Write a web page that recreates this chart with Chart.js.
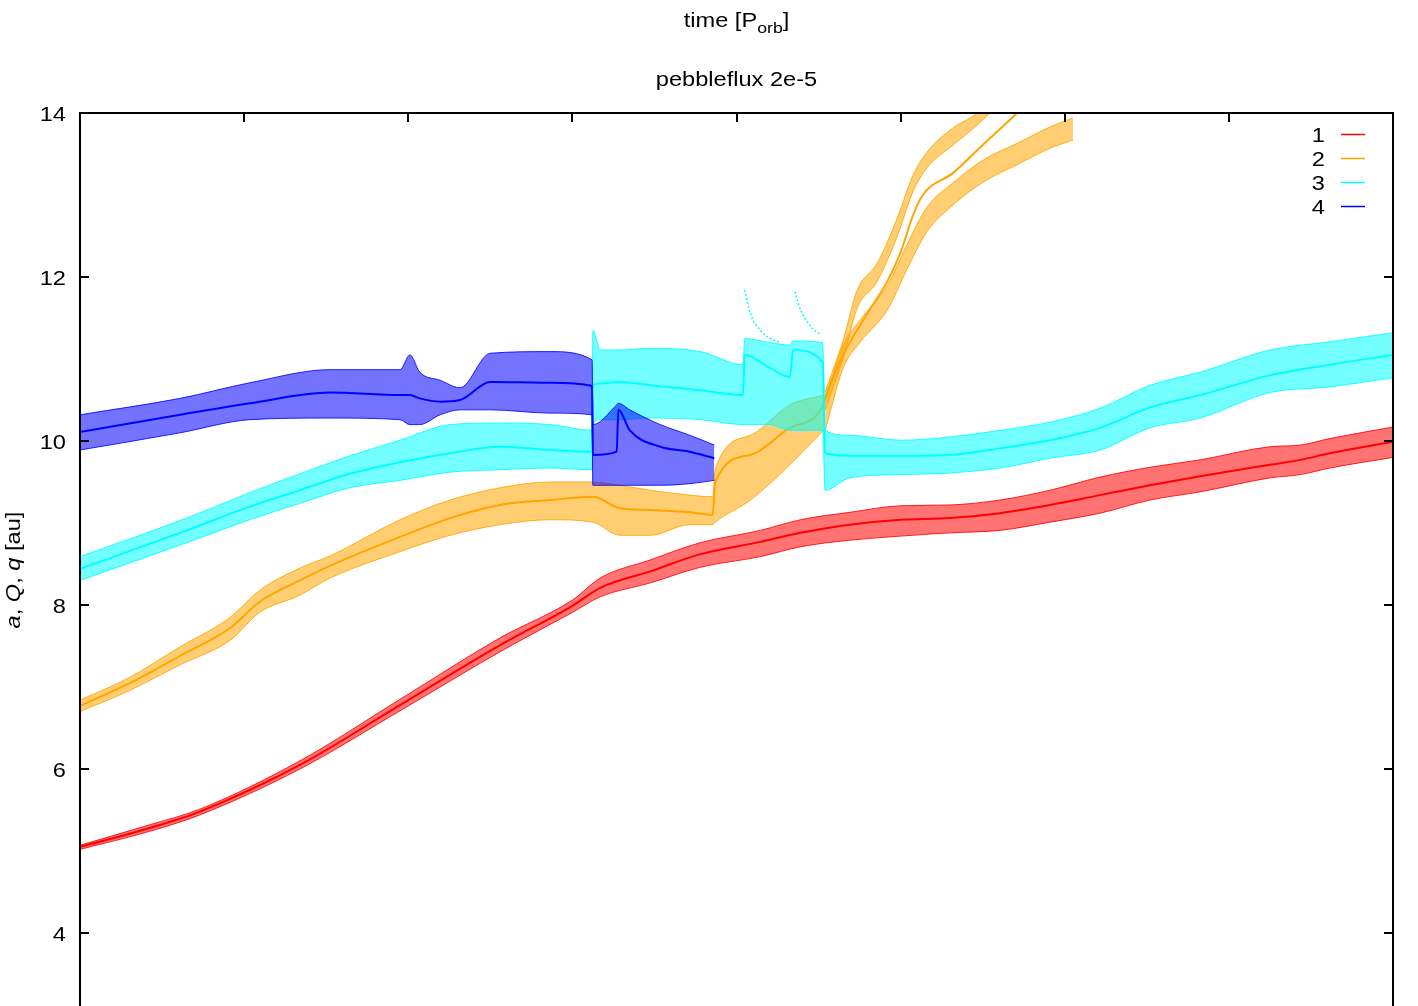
<!DOCTYPE html>
<html>
<head>
<meta charset="utf-8">
<script src="https://cdn.jsdelivr.net/npm/chart.js@4/dist/chart.umd.min.js"></script>
<style>
  html, body { margin: 0; padding: 0; background: #fff; overflow: hidden; }
  canvas { display: block; }
</style>
</head>
<body>
<canvas id="c" width="1418" height="1100" style="width:1418px;height:1100px"></canvas>
<script>
// ---- axes -------------------------------------------------------------
const yTicks = [4, 6, 8, 10, 12, 14];
const xTicks = [0, 1000, 2000, 3000, 4000, 5000, 6000, 7000, 8000];
const seriesNames = ['1', '2', '3', '4'];
const seriesColors = ['#ff0000', '#ffa500', '#00ffff', '#0000ff'];

// ---- planet 1 : time, semi-major axis, max apocentre, min pericentre ---
const t1 = [0, 425, 730, 1340, 1950, 2560, 3000, 3170, 3475, 3780, 4145, 4390, 4690, 5000, 5300, 5605, 5910, 6215, 6520, 6825, 7250, 7435, 7615, 8000];
const a1 = [5.05, 5.28, 5.48, 6.05, 6.78, 7.51, 7.99, 8.21, 8.41, 8.62, 8.77, 8.88, 8.98, 9.04, 9.06, 9.12, 9.22, 9.34, 9.46, 9.57, 9.71, 9.77, 9.85, 9.99];
const Q1 = [5.07, 5.32, 5.51, 6.10, 6.85, 7.60, 8.06, 8.33, 8.55, 8.76, 8.91, 9.04, 9.13, 9.21, 9.22, 9.28, 9.40, 9.56, 9.68, 9.77, 9.93, 9.95, 10.03, 10.17];
const q1 = [5.02, 5.24, 5.44, 6.00, 6.71, 7.43, 7.91, 8.10, 8.27, 8.46, 8.59, 8.71, 8.79, 8.84, 8.88, 8.91, 9.01, 9.12, 9.28, 9.38, 9.55, 9.59, 9.67, 9.80];

// ---- planet 2 : bound phase -------------------------------------------
const t2 = [0, 305, 610, 915, 1095, 1340, 1525, 1950, 2255, 2560, 2865, 3125, 3290, 3475, 3715, 3855, 3870, 4085, 4325, 4530];
const a2 = [6.77, 7.05, 7.38, 7.72, 8.04, 8.30, 8.48, 8.83, 9.06, 9.22, 9.28, 9.32, 9.18, 9.16, 9.13, 9.10, 9.50, 9.83, 10.16, 10.44];
const Q2 = [6.84, 7.12, 7.49, 7.85, 8.18, 8.45, 8.60, 9.04, 9.28, 9.43, 9.50, 9.50, 9.46, 9.40, 9.34, 9.32, 9.65, 10.07, 10.44, 10.56];
const q2 = [6.70, 6.96, 7.27, 7.57, 7.91, 8.12, 8.33, 8.65, 8.85, 8.98, 9.04, 9.01, 8.85, 8.85, 8.98, 8.98, 9.01, 9.28, 9.71, 10.13];
// planet 2 : after the scattering, a and the separate Q and q bands
const t2e = [4540, 4650, 4795, 4920, 5000, 5075, 5135, 5320, 5505, 5710, 5850];
const a2e = [10.52, 11.05, 11.55, 11.95, 12.30, 12.75, 13.00, 13.27, 13.62, 14.00, 14.28];
const tQ2 = [4540, 4650, 4735, 4855, 4980, 5075, 5160, 5320, 5465, 5545];
const Qhi2 = [10.60, 11.23, 11.84, 12.16, 12.72, 13.24, 13.52, 13.82, 14.00, 14.20];
const Qlo2 = [10.38, 11.01, 11.62, 11.94, 12.50, 13.04, 13.33, 13.61, 13.85, 14.00];
const tq2 = [4540, 4650, 4755, 4920, 5040, 5160, 5320, 5505, 5710, 5910, 6050];
const qhi2 = [10.50, 11.17, 11.48, 11.90, 12.40, 12.85, 13.15, 13.43, 13.63, 13.83, 13.94];
const qlo2 = [10.13, 10.89, 11.21, 11.60, 12.10, 12.55, 12.88, 13.16, 13.37, 13.57, 13.67];

// ---- planet 3 ---------------------------------------------------------
const t3 = [0, 650, 1035, 1340, 1645, 1950, 2255, 2560, 2865, 3120,
            3125, 3170, 3290, 3475, 3780, 4040,
            4050, 4205, 4325, 4345, 4525,
            4540, 4690, 5000, 5300, 5605, 5910, 6215, 6520, 6825, 7250, 7615, 8000];
const a3 = [8.44, 8.91, 9.20, 9.40, 9.60, 9.74, 9.85, 9.93, 9.89, 9.87,
            10.68, 10.70, 10.72, 10.68, 10.62, 10.56,
            11.05, 10.89, 10.78, 11.11, 10.96,
            9.85, 9.82, 9.82, 9.83, 9.91, 10.01, 10.16, 10.41, 10.56, 10.80, 10.93, 11.05];
const Q3 = [8.59, 9.06, 9.37, 9.60, 9.82, 10.01, 10.20, 10.22, 10.20, 10.13,
            11.35, 11.11, 11.11, 11.13, 11.09, 10.93,
            11.25, 11.20, 11.17, 11.22, 11.20,
            10.13, 10.07, 10.01, 10.05, 10.13, 10.23, 10.40, 10.68, 10.84, 11.11, 11.21, 11.32];
const q3 = [8.30, 8.76, 9.04, 9.24, 9.43, 9.52, 9.62, 9.65, 9.67, 9.65,
            10.20, 10.26, 10.26, 10.28, 10.26, 10.20,
            10.20, 10.20, 10.13, 10.13, 10.13,
            9.40, 9.55, 9.59, 9.61, 9.67, 9.79, 9.89, 10.16, 10.28, 10.59, 10.66, 10.77];
// planet 3 : apocentre trails after the two close encounters
const tTrailA = [4050, 4085, 4145, 4205, 4265];
const trailA = [11.84, 11.55, 11.35, 11.25, 11.20];
const tTrailB = [4355, 4390, 4450, 4510];
const trailB = [11.82, 11.60, 11.40, 11.30];

// ---- planet 4 ---------------------------------------------------------
const t4 = [0, 610, 1035, 1525, 1950, 2010, 2070, 2195, 2315, 2500, 2865, 3120,
            3125, 3270, 3280, 3350, 3535, 3715, 3865];
const a4 = [10.11, 10.32, 10.46, 10.59, 10.56, 10.56, 10.52, 10.48, 10.50, 10.72, 10.71, 10.67,
            9.83, 9.87, 10.38, 10.13, 9.93, 9.87, 9.79];
const Q4 = [10.32, 10.52, 10.71, 10.87, 10.87, 11.05, 10.84, 10.74, 10.65, 11.07, 11.09, 10.99,
            10.20, 10.44, 10.46, 10.38, 10.20, 10.07, 9.95];
const q4 = [9.89, 10.10, 10.26, 10.28, 10.26, 10.20, 10.20, 10.32, 10.38, 10.38, 10.34, 10.32,
            9.46, 9.46, 9.46, 9.46, 9.46, 9.48, 9.52];

// ---- dataset construction ---------------------------------------------
const pts = (t, v) => t.map((x, i) => ({ x, y: v[i] }));
function tint(hex, alpha) {
  const n = parseInt(hex.slice(1), 16);
  return `rgba(${(n >> 16) & 255},${(n >> 8) & 255},${n & 255},${alpha})`;
}

const datasets = [];
function addBand(t, hi, lo, color, order) {
  const loIndex = datasets.length;
  datasets.push({ data: pts(t, lo), borderColor: tint(color, 0.85), borderWidth: 1, fill: false, order });
  datasets.push({ data: pts(t, hi), borderColor: tint(color, 0.85), borderWidth: 1,
                  backgroundColor: tint(color, 0.55), fill: { target: loIndex }, order });
}
function addLine(t, v, color, order, dash) {
  datasets.push({ data: pts(t, v), borderColor: color, borderWidth: dash ? 1.5 : 2,
                  borderDash: dash || [], fill: false, order });
}

addBand(t1, Q1, q1, seriesColors[0], 41);
addLine(t1, a1, seriesColors[0], 40);

addBand(t2, Q2, q2, seriesColors[1], 31);
addBand(tQ2, Qhi2, Qlo2, seriesColors[1], 31);
addBand(tq2, qhi2, qlo2, seriesColors[1], 31);
addLine(t2.concat(t2e), a2.concat(a2e), seriesColors[1], 30);

addBand(t3, Q3, q3, seriesColors[2], 21);
addLine(tTrailA, trailA, seriesColors[2], 21, [2, 2]);
addLine(tTrailB, trailB, seriesColors[2], 21, [2, 2]);
addLine(t3, a3, seriesColors[2], 20);

addBand(t4, Q4, q4, seriesColors[3], 11);
addLine(t4, a4, seriesColors[3], 10);

// ---- frame, ticks, titles and key, gnuplot style ----------------------
const FONT = '"Liberation Sans", Arial, Helvetica, sans-serif';
const SX = 1.18;

function text(ctx, str, x, y, size, align, italic) {
  ctx.save();
  ctx.font = `${italic ? 'italic ' : ''}${size}px ${FONT}`;
  ctx.translate(x, y);
  ctx.scale(SX, 1);
  ctx.textAlign = align;
  ctx.textBaseline = 'alphabetic';
  ctx.fillStyle = '#000';
  ctx.fillText(str, 0, 0);
  ctx.restore();
}
function runWidth(ctx, parts) {
  let w = 0;
  for (const p of parts) {
    ctx.font = `${p.italic ? 'italic ' : ''}${p.size}px ${FONT}`;
    w += ctx.measureText(p.s).width * SX;
  }
  return w;
}
function drawRun(ctx, parts, x, y) {
  for (const p of parts) {
    ctx.font = `${p.italic ? 'italic ' : ''}${p.size}px ${FONT}`;
    const w = ctx.measureText(p.s).width * SX;
    text(ctx, p.s, x, y + (p.dy || 0), p.size, 'left', p.italic);
    x += w;
  }
}

const framePlugin = {
  id: 'frame',
  afterDatasetsDraw(chart) {
    const { ctx, chartArea: ca, scales } = chart;
    ctx.save();
    ctx.strokeStyle = '#000';
    ctx.lineWidth = 2;
    ctx.beginPath();
    ctx.moveTo(ca.left, ca.bottom + 5);
    ctx.lineTo(ca.left, ca.top);
    ctx.lineTo(ca.right, ca.top);
    ctx.lineTo(ca.right, ca.bottom + 5);
    ctx.stroke();

    const tl = 9;
    ctx.beginPath();
    for (const v of yTicks) {
      const y = Math.round(scales.y.getPixelForValue(v));
      ctx.moveTo(ca.left, y); ctx.lineTo(ca.left + tl, y);
      ctx.moveTo(ca.right, y); ctx.lineTo(ca.right - tl, y);
    }
    for (const v of xTicks) {
      const x = Math.round(scales.x.getPixelForValue(v));
      ctx.moveTo(x, ca.top); ctx.lineTo(x, ca.top + tl);
    }
    ctx.stroke();

    for (const v of yTicks) {
      const y = scales.y.getPixelForValue(v);
      text(ctx, String(v), ca.left - 14, y + 8, 20, 'right');
    }

    // x-axis label with subscript, and the plot title
    const cx = (ca.left + ca.right) / 2;
    const xl = [{ s: 'time [P', size: 20 }, { s: 'orb', size: 15, dy: 6 }, { s: ']', size: 20 }];
    drawRun(ctx, xl, cx - runWidth(ctx, xl) / 2, 27);
    text(ctx, 'pebbleflux 2e-5', cx, 86, 20, 'center');

    // y-axis label, rotated
    const yl = [
      { s: 'a', size: 20, italic: true }, { s: ', ', size: 20 },
      { s: 'Q', size: 20, italic: true }, { s: ', ', size: 20 },
      { s: 'q', size: 20, italic: true }, { s: ' [au]', size: 20 }
    ];
    ctx.save();
    ctx.translate(20, 570);
    ctx.rotate(-Math.PI / 2);
    drawRun(ctx, yl, -runWidth(ctx, yl) / 2, 0);
    ctx.restore();

    // key
    seriesNames.forEach((name, i) => {
      const y = ca.top + 21 + 24 * i;
      text(ctx, name, 1325, y + 8, 20, 'right');
      ctx.strokeStyle = seriesColors[i];
      ctx.lineWidth = 1.5;
      ctx.beginPath();
      ctx.moveTo(1341, y + 0.5);
      ctx.lineTo(1365, y + 0.5);
      ctx.stroke();
    });
    ctx.restore();
  }
};

new Chart(document.getElementById('c'), {
  type: 'line',
  data: { datasets },
  options: {
    responsive: false,
    animation: false,
    events: [],
    layout: { padding: { left: 80, right: 25, top: 113, bottom: 85 } },
    elements: {
      point: { radius: 0 },
      line: { cubicInterpolationMode: 'monotone', capBezierPoints: true }
    },
    scales: {
      x: { type: 'linear', min: 0, max: 8000, display: false },
      y: { type: 'linear', min: 3, max: 14, display: false }
    },
    plugins: { legend: { display: false }, tooltip: { enabled: false } }
  },
  plugins: [framePlugin]
});
</script>
</body>
</html>
